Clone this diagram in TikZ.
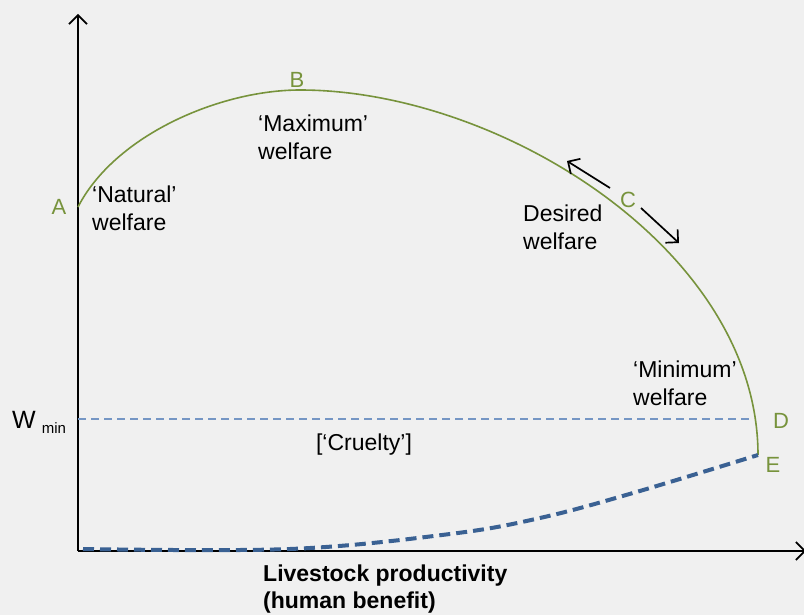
\documentclass[tikz,border=0pt]{standalone}
\usepackage{fontspec}
\setmainfont{Liberation Sans}
\usetikzlibrary{arrows.meta}
\definecolor{bgc}{HTML}{F0F0F0}
\definecolor{curvegreen}{HTML}{77933C}
\definecolor{darkblue}{HTML}{3A6193}
\definecolor{lightblue}{HTML}{7596C4}
\tikzset{
  lbl/.style={inner sep=0pt, font=\fontsize{23}{27.5}\selectfont, align=left, anchor=north west},
  ptlbl/.style={inner sep=0pt, text=curvegreen, font=\fontsize{22}{27}\selectfont},
  axis/.style={line width=1.6pt, -{Straight Barb[length=9pt,width=18pt,line width=1.6pt]}},
  dirarrow/.style={line width=1.7pt, -{Straight Barb[length=9pt,width=18pt,line width=1.7pt]}},
}
\begin{document}
\begin{tikzpicture}[x=1pt,y=-1pt]
\fill[bgc] (0,0) rectangle (804,615);
\useasboundingbox (0,0) rectangle (804,615);
% axes
\coordinate (O) at (78,551);
\coordinate (Ytop) at (78,14);
\coordinate (Xend) at (806,551);
\draw[axis] (O) -- (Ytop);
\draw[axis] (O) -- (Xend);
% Wmin line
\coordinate (W0) at (78,419);
\coordinate (W1) at (753,419);
\draw[lightblue, line width=1.3pt, dash pattern=on 8pt off 5pt] (W0) -- (W1);
% green curve
\coordinate (Apt) at (78,207);
\coordinate (Bpt) at (300,90);
\coordinate (Ept) at (758,455);
\draw[curvegreen, line width=1.6pt] (Apt) .. controls (115,135) and (220,90) .. (Bpt)
   .. controls (500,90) and (758,250) .. (Ept);
% blue dashed curve
\coordinate (S0) at (83,549);
\draw[darkblue, line width=4pt, dash pattern=on 11pt off 6pt]
  plot[smooth, tension=0.6] coordinates {(83,549) (290,549) (450,534) (540,518) (633,493) (758,455)};
% arrows near C
\coordinate (a1s) at (610,188);
\coordinate (a1e) at (567,161);
\coordinate (a2s) at (641,208);
\coordinate (a2e) at (679,243);
\draw[dirarrow] (a1s) -- (a1e);
\draw[dirarrow] (a2s) -- (a2e);
% point labels
\node[ptlbl] (A) at (59,207) {A};
\node[ptlbl] (B) at (297,80) {B};
\node[ptlbl] (C) at (628,200) {C};
\node[ptlbl] (D) at (781,421) {D};
\node[ptlbl] (E) at (773,465) {E};
% text labels
\node[lbl] (nat) at (92,186) {‘Natural’\\welfare};
\node[lbl] (max) at (258,115) {‘Maximum’\\welfare};
\node[lbl] (des) at (523,205) {Desired\\welfare};
\node[lbl] (min) at (633,361) {‘Minimum’\\welfare};
\node[inner sep=0pt, font=\fontsize{23}{27}\selectfont] (cru) at (364,445) {[‘Cruelty’]};
\node[inner sep=0pt, anchor=base west, font=\fontsize{25}{27}\selectfont] (wmin) at (12,428) {W\hspace{6pt}\raisebox{-5pt}{\fontsize{15}{16}\selectfont min}};
\node[lbl, font=\bfseries\fontsize{23}{27}\selectfont] (xlab) at (263,565) {Livestock productivity\\(human benefit)};
\end{tikzpicture}
\end{document}
